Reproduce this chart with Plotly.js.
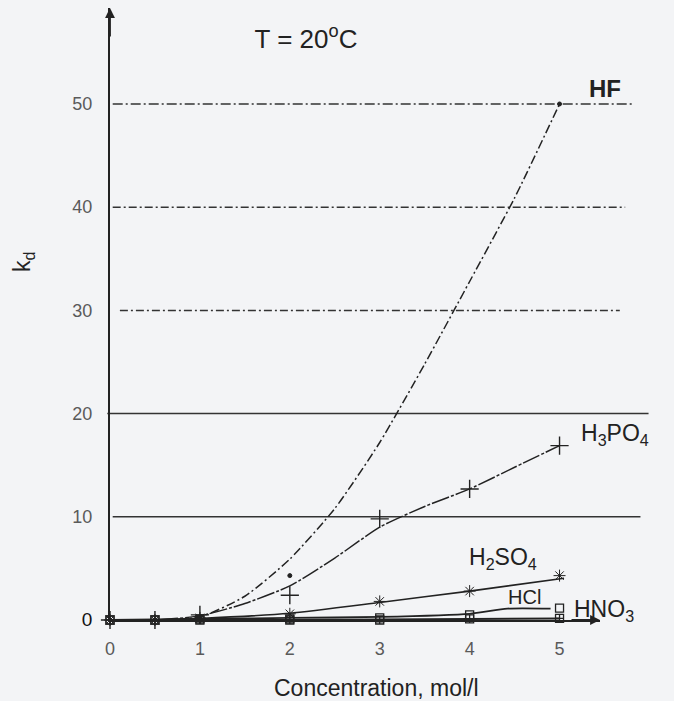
<!DOCTYPE html>
<html>
<head>
<meta charset="utf-8">
<script src="https://cdn.plot.ly/plotly-3.0.1.min.js"></script>
<style>html,body{margin:0;padding:0;background:#f3f4f6;}</style>
</head>
<body>
<div id="chart" style="width:674px;height:701px;"></div>
<script>
// ---- data ----
const xTicks = [0, 1, 2, 3, 4, 5];
const yTicks = [0, 10, 20, 30, 40, 50];
const yTickText = ['<span style="font-size:19px;color:#111">0</span>', '10', '20', '30', '40', '50'];

// smoothed curves
const hfCurveX   = [0, 0.5, 1, 1.5, 2, 2.5, 3, 3.5, 4, 4.5, 5];
const hfCurveY   = [0, 0, 0.3, 2.3, 5.9, 10.8, 17.2, 24.8, 32.8, 40.9, 50];
const h3po4CurveX = [0, 0.5, 1, 1.5, 2, 2.5, 3, 3.5, 4, 4.5, 5];
const h3po4CurveY = [0, 0, 0.4, 1.6, 3.3, 6.0, 9.0, 11.0, 12.7, 14.8, 16.9];
const h2so4CurveX = [0, 0.5, 1, 2, 3, 4, 5.05];
const h2so4CurveY = [0, 0, 0.15, 0.65, 1.7, 2.8, 4.05];
const hclCurveX  = [0, 1, 2, 3, 4, 4.42, 4.9];
const hclCurveY  = [0, 0.1, 0.2, 0.3, 0.6, 1.1, 1.1];
const hno3CurveX = [0, 1, 2, 3, 4, 5];
const hno3CurveY = [0, 0, 0, 0.05, 0.1, 0.15];

// measured points
const hfPtsX    = [0, 0.5, 1, 2, 5];
const hfPtsY    = [0, 0, 0.3, 4.3, 50];
const h3po4PtsX = [0, 0.5, 1, 2, 3, 4, 5];
const h3po4PtsY = [0, 0, 0.5, 2.4, 9.8, 12.7, 16.9];
const h2so4PtsX = [0, 0.5, 1, 2, 3, 4, 5];
const h2so4PtsY = [0, 0, 0.2, 0.6, 1.8, 2.8, 4.3];
const hclPtsX   = [0, 0.5, 1, 2, 3, 4, 5];
const hclPtsY   = [0, 0, 0.1, 0.1, 0.2, 0.5, 1.15];
const hno3PtsX  = [0, 0.5, 1, 2, 3, 4, 5];
const hno3PtsY  = [0, 0, 0, 0, 0, 0.1, 0.15];

// horizontal reference lines: level, start, end
const gridLevels = [10, 20, 30, 40, 50];
const gridStart  = [0.03, -0.03, 0.11, 0.03, 0.03];
const gridEnd    = [5.9, 5.99, 5.67, 5.73, 5.81];
const gridDash   = ['solid', 'solid', '8px,3px,2px,3px', '8px,3px,2px,3px', '10px,3px,2px,3px'];

const XMAX = 5.45, YMAX = 59.3;
const INK = '#222';

const curve = (x, y, dash, w) => ({
  x, y, type: 'scatter', mode: 'lines', line: {color: INK, width: w, dash: dash, shape: 'spline', smoothing: 0.6},
  hoverinfo: 'skip', showlegend: false
});
const pts = (x, y, sym, size, lw) => ({
  x, y, type: 'scatter', mode: 'markers', cliponaxis: false,
  marker: {symbol: sym, size: size, color: INK, line: {color: INK, width: lw}},
  hoverinfo: 'skip', showlegend: false
});

const data = [
  curve(hfCurveX, hfCurveY, '9px,3px,2px,3px', 1.5),
  curve(h3po4CurveX, h3po4CurveY, '18px,2px,3px,2px', 1.5),
  curve(h2so4CurveX, h2so4CurveY, 'solid', 1.6),
  curve(hclCurveX, hclCurveY, 'solid', 1.8),
  curve(hno3CurveX, hno3CurveY, 'solid', 2),
  pts(hfPtsX, hfPtsY, 'circle', 4, 1),
  pts(h3po4PtsX, h3po4PtsY, 'cross-thin-open', 13, 1.4),
  pts(h2so4PtsX, h2so4PtsY, 'asterisk-open', 10, 1),
  pts(hclPtsX, hclPtsY, 'square-open', 8, 1.3),
  pts(hno3PtsX, hno3PtsY, 'square-cross-open', 8, 1.3)
];

const shapes = gridLevels.map((v, i) => ({
  type: 'line', xref: 'paper', yref: 'y', layer: 'below',
  x0: gridStart[i] / XMAX, x1: gridEnd[i] / XMAX, y0: v, y1: v,
  line: {color: '#333', width: 1.5, dash: gridDash[i]}
}));

const lab = {family: 'Liberation Sans, Arial, sans-serif', color: INK};
const f = (s) => Object.assign({size: s}, lab);
const annotations = [
  // axis arrows
  {x: 0, y: YMAX, xref: 'x', yref: 'y', ax: 0, ay: 30, text: '', showarrow: true,
   arrowhead: 2, arrowsize: 1.1, arrowwidth: 1.8, arrowcolor: INK, standoff: 0},
  {x: XMAX, y: 0, xref: 'x', yref: 'y', ax: -30, ay: 0, text: '', showarrow: true,
   arrowhead: 2, arrowsize: 1.1, arrowwidth: 1.8, arrowcolor: INK, standoff: 0},
  // series labels
  {x: 5.51 / XMAX, y: 51.5, xref: 'paper', yref: 'y', xanchor: 'center', yanchor: 'middle',
   text: '<b>HF</b>', showarrow: false, font: f(24)},
  {x: 5.22, y: 18.0, xref: 'x', yref: 'y', xanchor: 'left', yanchor: 'middle', text: 'H<sub>3</sub>PO<sub>4</sub>', showarrow: false, font: f(23)},
  {x: 3.97, y: 6.0, xref: 'x', yref: 'y', xanchor: 'left', yanchor: 'middle', text: 'H<sub>2</sub>SO<sub>4</sub>', showarrow: false, font: f(23)},
  {x: 4.40, y: 2.2, xref: 'x', yref: 'y', xanchor: 'left', yanchor: 'middle', text: 'HCl', showarrow: false, font: f(20)},
  {x: 5.14, y: 0.9, xref: 'x', yref: 'y', xanchor: 'left', yanchor: 'middle', text: 'HNO<sub>3</sub>', showarrow: false, font: f(23)},
  // axis titles
  {x: (376 - 110) / 490, y: (620 - 688) / 612, xref: 'paper', yref: 'paper', xanchor: 'center', yanchor: 'middle',
   text: 'Concentration, mol/l', showarrow: false, font: f(23)},
  {x: (23 - 110) / 490, y: (620 - 262) / 612, xref: 'paper', yref: 'paper', xanchor: 'center', yanchor: 'middle',
   text: 'k<sub>d</sub>', textangle: -90, showarrow: false, font: f(23)}
];

const tickFont = {family: 'Liberation Sans, Arial, sans-serif', size: 18, color: '#5a5a5a'};
const layout = {
  width: 674, height: 701,
  margin: {l: 110, r: 74, t: 8, b: 81, pad: 0},
  paper_bgcolor: '#f3f4f6', plot_bgcolor: '#f3f4f6',
  title: {text: 'T = 20<sup>o</sup>C', xref: 'container', yref: 'container', x: 306 / 674, y: 1 - 39 / 701,
          xanchor: 'center', yanchor: 'middle', font: f(26)},
  xaxis: {range: [0, XMAX], tickvals: xTicks, ticktext: xTicks.map(String),
          showgrid: false, zeroline: false, showline: true, linecolor: INK, linewidth: 2,
          ticks: 'outside', ticklen: 11, tickcolor: 'rgba(0,0,0,0)',
          tickfont: tickFont, fixedrange: true},
  yaxis: {range: [0, YMAX], tickvals: yTicks, ticktext: yTickText,
          showgrid: false, zeroline: false, showline: true, linecolor: INK, linewidth: 2,
          ticks: 'outside', ticklen: 12, tickcolor: 'rgba(0,0,0,0)',
          tickfont: tickFont, fixedrange: true},
  shapes: shapes,
  annotations: annotations,
  showlegend: false
};

Plotly.newPlot('chart', data, layout, {displayModeBar: false, staticPlot: true});
</script>
</body>
</html>
